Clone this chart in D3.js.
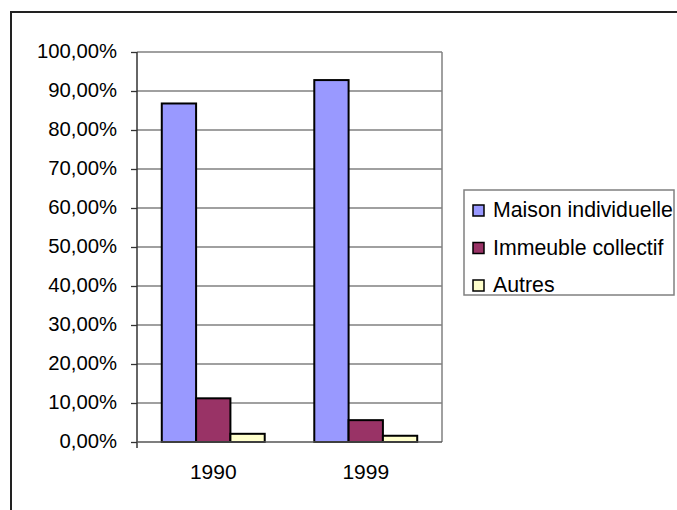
<!DOCTYPE html>
<html>
<head>
<meta charset="utf-8">
<script src="https://cdn.jsdelivr.net/npm/d3@7"></script>
<style>
  html, body { margin: 0; padding: 0; background: #fff; overflow: hidden; }
  svg { display: block; }
  text { font-family: "Liberation Sans", Arial, sans-serif; fill: #000; }
</style>
</head>
<body>
<script>
// data
const years = ['1990', '1999'];
const series = ['Maison individuelle', 'Immeuble collectif', 'Autres'];
const maison = [86.8, 92.8];
const immeuble = [11.2, 5.6];
const autres = [2.1, 1.6];
const yTicks = [0, 10, 20, 30, 40, 50, 60, 70, 80, 90, 100];

const colors = ['#9999FF', '#993366', '#FFFFCC'];
const values = [maison, immeuble, autres];

const width = 677, height = 510;
const plot = { left: 137, right: 442, top: 52, bottom: 442 };

const svg = d3.select('body').append('svg')
  .attr('width', width)
  .attr('height', height);

// chart frame (right and bottom edges fall outside the picture)
svg.append('path')
  .attr('d', `M11,${height}V12H${width}`)
  .attr('fill', 'none')
  .attr('stroke', '#222')
  .attr('stroke-width', 2);

const x0 = d3.scaleBand()
  .domain(years)
  .range([plot.left, plot.right])
  .paddingInner(0.325)
  .paddingOuter(0.1625);

const x1 = d3.scaleBand()
  .domain(series)
  .range([0, x0.bandwidth()]);

const y = d3.scaleLinear()
  .domain([0, 100])
  .range([plot.bottom, plot.top]);

// gridlines
svg.append('g')
  .selectAll('line')
  .data(yTicks.filter(d => d > 0))
  .enter().append('line')
    .attr('x1', plot.left).attr('x2', plot.right)
    .attr('y1', d => y(d)).attr('y2', d => y(d))
    .attr('stroke', '#808080')
    .attr('stroke-width', 1.5);

// right border of plot area
svg.append('line')
  .attr('x1', plot.right).attr('x2', plot.right)
  .attr('y1', plot.top).attr('y2', plot.bottom)
  .attr('stroke', '#808080')
  .attr('stroke-width', 1.5);

// bars
const rows = [];
years.forEach((yr, i) => {
  series.forEach((s, j) => rows.push({ year: yr, serie: s, value: values[j][i], color: colors[j] }));
});

svg.append('g')
  .selectAll('rect')
  .data(rows)
  .enter().append('rect')
    .attr('x', d => x0(d.year) + x1(d.serie))
    .attr('y', d => y(d.value))
    .attr('width', x1.bandwidth())
    .attr('height', d => y(0) - y(d.value))
    .attr('fill', d => d.color)
    .attr('stroke', '#000')
    .attr('stroke-width', 2);

// y axis
const fmt = d => d3.format('.2f')(d).replace('.', ',') + '%';
const yAxis = d3.axisLeft(y)
  .tickValues(yTicks)
  .tickSize(6)
  .tickSizeOuter(0)
  .tickPadding(14)
  .tickFormat(fmt);

const ya = svg.append('g')
  .attr('transform', `translate(${plot.left},0)`)
  .call(yAxis);
ya.select('.domain').remove();
ya.selectAll('.tick line').attr('stroke', '#333').attr('stroke-width', 1.3);
ya.selectAll('.tick text')
  .attr('font-size', 20.3)
  .attr('dy', 5)
  .style('font-family', '"Liberation Sans", Arial, sans-serif');

// axis lines
svg.append('line')
  .attr('x1', plot.left).attr('x2', plot.left)
  .attr('y1', plot.top).attr('y2', plot.bottom + 6)
  .attr('stroke', '#333').attr('stroke-width', 1.5);
svg.append('line')
  .attr('x1', plot.left).attr('x2', plot.right)
  .attr('y1', plot.bottom).attr('y2', plot.bottom)
  .attr('stroke', '#555').attr('stroke-width', 1.5);

// x labels
svg.append('g')
  .selectAll('text')
  .data(years)
  .enter().append('text')
    .attr('x', d => x0(d) + x0.bandwidth() / 2)
    .attr('y', 479)
    .attr('text-anchor', 'middle')
    .attr('font-size', 21)
    .text(d => d);

// legend
const lg = svg.append('g');
lg.append('rect')
  .attr('x', 464).attr('y', 190)
  .attr('width', 210).attr('height', 105)
  .attr('fill', '#fff')
  .attr('stroke', '#808080')
  .attr('stroke-width', 1.5);

const item = lg.selectAll('.item')
  .data(series)
  .enter().append('g')
    .attr('class', 'item')
    .attr('transform', (d, i) => `translate(473, ${210 + i * 37.5})`);

item.append('rect')
  .attr('x', 0).attr('y', -5)
  .attr('width', 11).attr('height', 11)
  .attr('fill', (d, i) => colors[i])
  .attr('stroke', '#000')
  .attr('stroke-width', 1.5);

item.append('text')
  .attr('x', 20)
  .attr('y', 7)
  .attr('font-size', 21.3)
  .text(d => d);
</script>
</body>
</html>
